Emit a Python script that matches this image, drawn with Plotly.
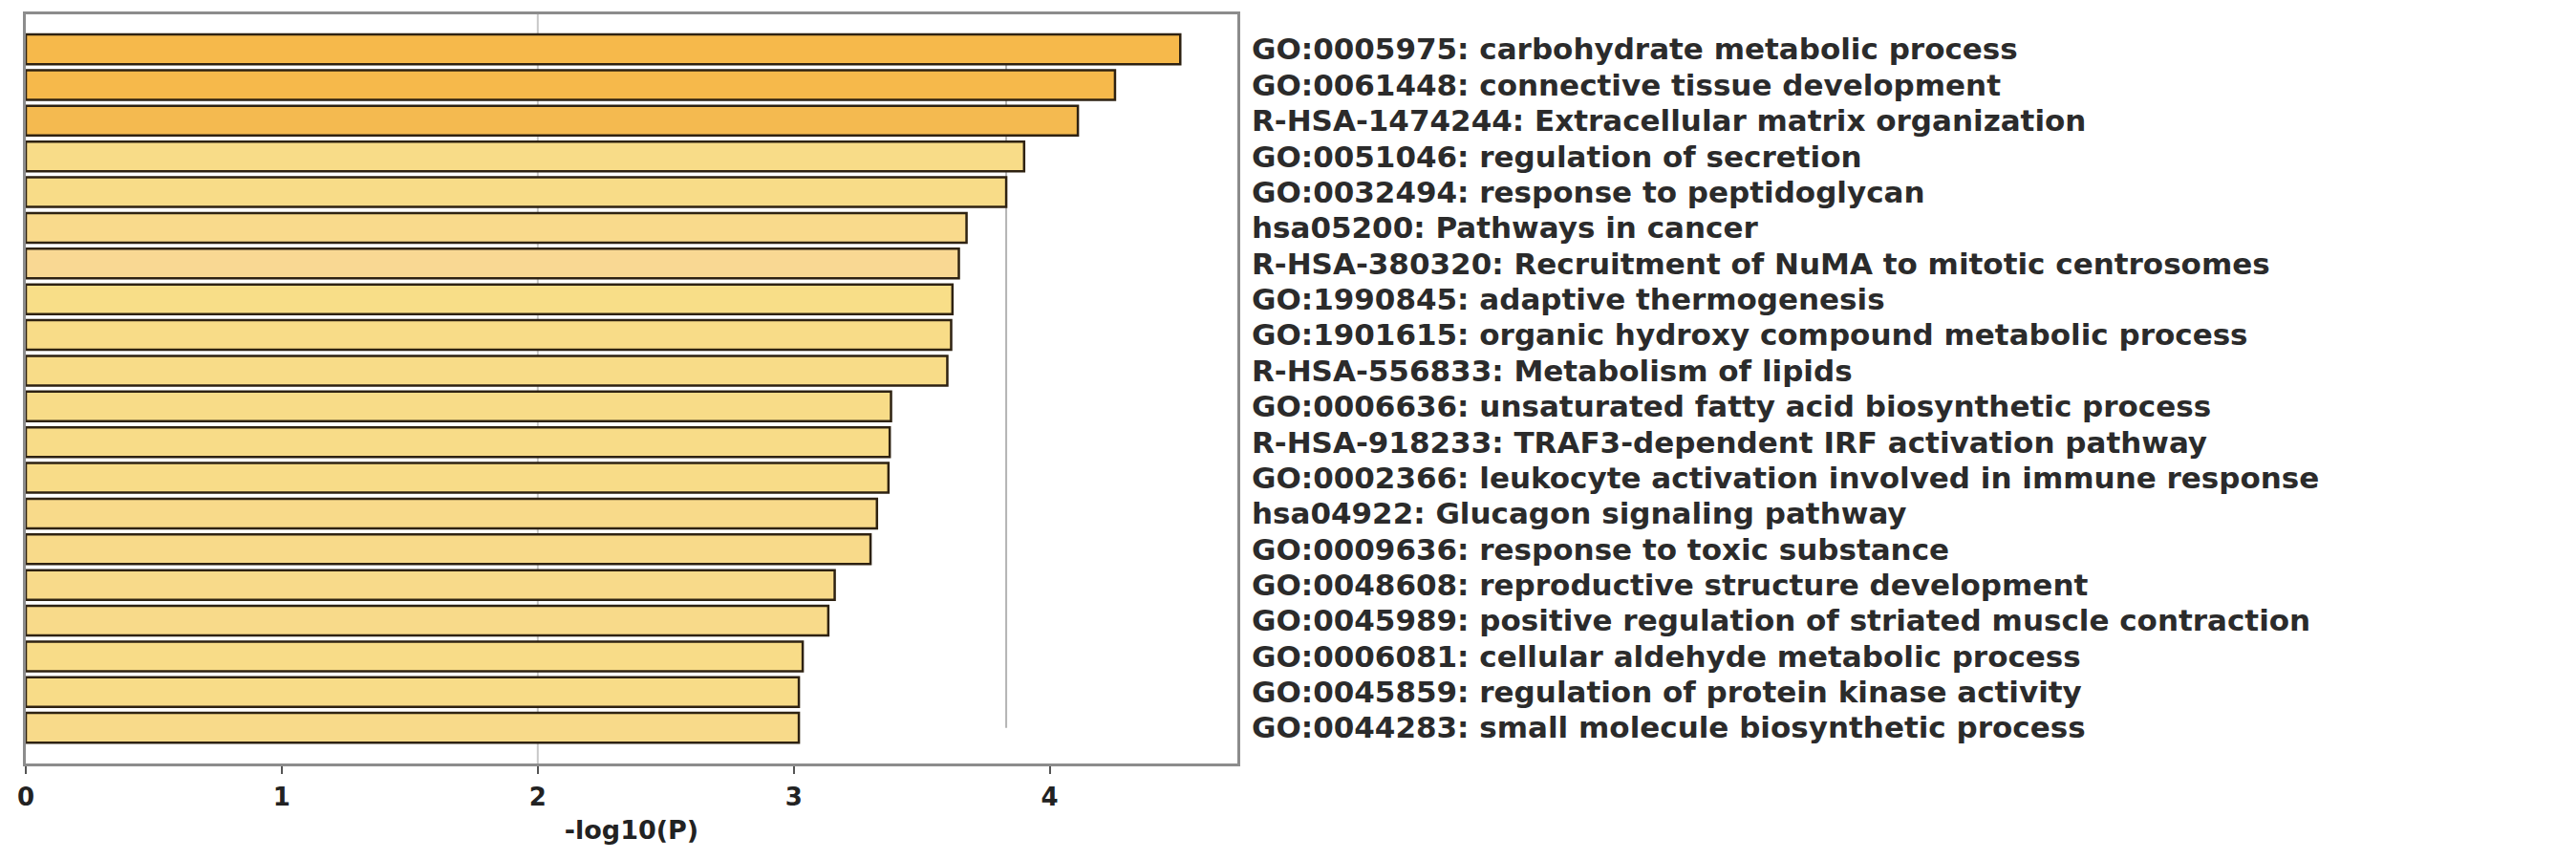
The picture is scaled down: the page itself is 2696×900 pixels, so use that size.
import plotly.graph_objects as go

terms = [
    "GO:0005975: carbohydrate metabolic process",
    "GO:0061448: connective tissue development",
    "R-HSA-1474244: Extracellular matrix organization",
    "GO:0051046: regulation of secretion",
    "GO:0032494: response to peptidoglycan",
    "hsa05200: Pathways in cancer",
    "R-HSA-380320: Recruitment of NuMA to mitotic centrosomes",
    "GO:1990845: adaptive thermogenesis",
    "GO:1901615: organic hydroxy compound metabolic process",
    "R-HSA-556833: Metabolism of lipids",
    "GO:0006636: unsaturated fatty acid biosynthetic process",
    "R-HSA-918233: TRAF3-dependent IRF activation pathway",
    "GO:0002366: leukocyte activation involved in immune response",
    "hsa04922: Glucagon signaling pathway",
    "GO:0009636: response to toxic substance",
    "GO:0048608: reproductive structure development",
    "GO:0045989: positive regulation of striated muscle contraction",
    "GO:0006081: cellular aldehyde metabolic process",
    "GO:0045859: regulation of protein kinase activity",
    "GO:0044283: small molecule biosynthetic process",
]
neg_log10_p = [4.51, 4.255, 4.11, 3.90, 3.83, 3.675, 3.645, 3.62, 3.615, 3.60,
               3.38, 3.375, 3.37, 3.325, 3.30, 3.16, 3.135, 3.035, 3.02, 3.02]
bar_colors = ["#F6B94B", "#F6B94B", "#F4BA50",
              "#F8DC88", "#F8DC88", "#F9DA8C", "#F9D893", "#F8DE88", "#F8DC88", "#F8DC88",
              "#F8DC88", "#F8DC88", "#F8DC88", "#F8DA8A", "#F8DA8A", "#F8DA8A", "#F8DA8A",
              "#F8DC88", "#F8DC88", "#F8DA8A"]
x_ticks = [0, 1, 2, 3, 4]
ref_line_x = 2
threshold_x = 3.83

fig = go.Figure()
fig.add_trace(go.Bar(
    x=neg_log10_p, y=terms, orientation="h",
    marker=dict(color=bar_colors, line=dict(color="#2e2212", width=2.5)),
))

fig.add_shape(type="line", xref="x", yref="paper", x0=ref_line_x, x1=ref_line_x,
              y0=0, y1=1, line=dict(color="#c8c8c8", width=2), layer="below")
fig.add_shape(type="line", xref="x", yref="y", x0=threshold_x, x1=threshold_x,
              y0=terms[0], y1=terms[-1], line=dict(color="#b4b4b4", width=2), layer="below")

fig.update_layout(
    width=2696, height=900,
    margin=dict(l=27, r=1401, t=12, b=101),
    paper_bgcolor="white", plot_bgcolor="white",
    showlegend=False, bargap=0.17,
    font=dict(family="DejaVu Sans", color="#2b2b2b"),
)
fig.update_xaxes(
    range=[0, 4.733], tickvals=x_ticks, ticktext=[str(v) for v in x_ticks],
    showgrid=False, zeroline=False,
    showline=True, mirror=True, linecolor="#8c8c8c", linewidth=2.5,
    ticks="outside", ticklen=8, tickwidth=2, tickcolor="#555555",
    tickfont=dict(family="DejaVu Sans", size=26, color="#222222", weight="bold"),
    ticklabelstandoff=2,
    title=dict(text="-log10(P)", standoff=12,
               font=dict(family="DejaVu Sans", size=27, color="#222222", weight="bold")),
)
fig.update_yaxes(
    type="category", categoryorder="array", categoryarray=terms,
    tickmode="array", tickvals=terms, ticktext=terms,
    range=[20.0, -0.98], side="right",
    showgrid=False, zeroline=False, ticks="",
    showline=True, mirror=True, linecolor="#8c8c8c", linewidth=2.5,
    tickfont=dict(family="DejaVu Sans", size=31, color="#2b2b2b", weight="bold"),
    ticklabelstandoff=6,
)

fig.write_html("out.html")
